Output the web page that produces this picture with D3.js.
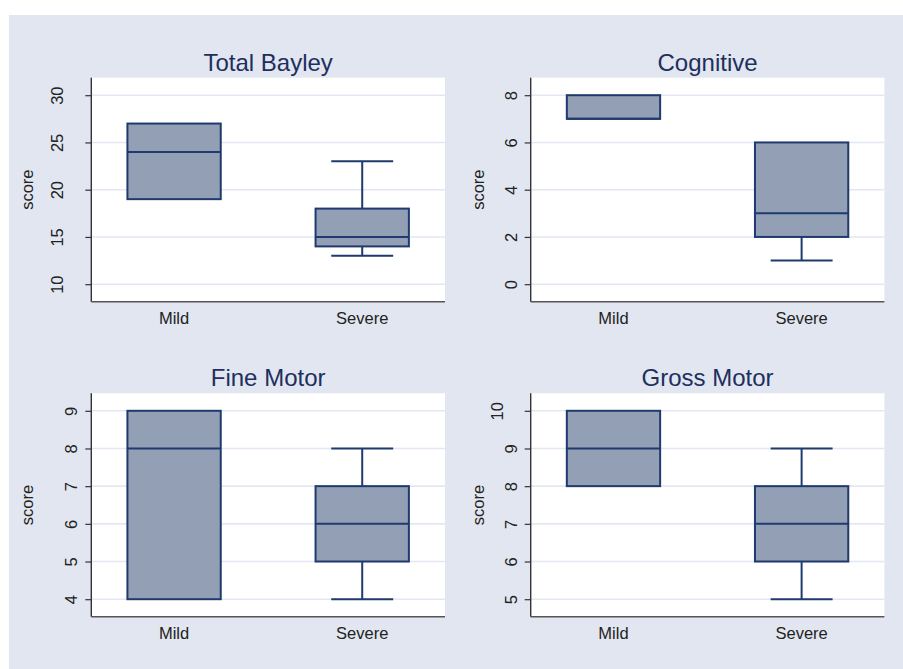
<!DOCTYPE html>
<html>
<head>
<meta charset="utf-8">
<script src="https://cdn.jsdelivr.net/npm/d3@7"></script>
<style>
  html, body { margin: 0; padding: 0; background: #ffffff; }
  svg { display: block; }
  text { font-family: "Liberation Sans", Arial, Helvetica, sans-serif; }
</style>
</head>
<body>
<script>
// ---- data ----
const categories = ["Mild", "Severe"];
const titles = ["Total Bayley", "Cognitive", "Fine Motor", "Gross Motor"];
// [lower whisker, Q1, median, Q3, upper whisker]
const mildStats = [
  [19, 19, 24, 27, 27],
  [7, 7, 7, 8, 8],
  [4, 4, 8, 9, 9],
  [8, 8, 9, 10, 10]
];
const severeStats = [
  [13, 14, 15, 18, 23],
  [1, 2, 3, 6, 6],
  [4, 5, 6, 7, 8],
  [5, 6, 7, 8, 9]
];
const yTicks = [
  [10, 15, 20, 25, 30],
  [0, 2, 4, 6, 8],
  [4, 5, 6, 7, 8, 9],
  [5, 6, 7, 8, 9, 10]
];
const yLabel = "score";

// ---- layout ----
const W = 903, H = 669;
const svg = d3.select("body").append("svg").attr("width", W).attr("height", H);

svg.append("rect").attr("x", 9).attr("y", 15).attr("width", W - 9).attr("height", H - 15)
  .attr("fill", "#e1e6f0");

const colX = [91.3, 530.7];
const rowY = [77.7, 393.3];
const yLabelOffset = [58, 46.4];
const plotW = 353.7;
const plotHs = [224, 223.4];
const pad = 17.5;

const boxFill = "#939fb5";
const boxStroke = "#1f3a6e";

titles.forEach((title, i) => {
  const col = i % 2, row = Math.floor(i / 2);
  const x0 = colX[col];
  const y0 = rowY[row];
  const ph = plotHs[row];
  const ticks = yTicks[i];
  const g = svg.append("g").attr("transform", `translate(${x0},${y0})`);

  const x = d3.scalePoint().domain(categories).range([0, plotW]).padding(0.44);
  const step = plotW / (1 + 2 * 0.44);
  const boxW = step * 0.496;
  const capW = boxW * 0.664;

  const y = d3.scaleLinear().domain([d3.min(ticks), d3.max(ticks)]).range([ph - pad, pad]);

  // plot area
  g.append("rect").attr("x", 0).attr("y", 0).attr("width", plotW).attr("height", ph).attr("fill", "#ffffff");

  // gridlines
  g.selectAll("line.grid").data(ticks).enter().append("line")
    .attr("x1", 0).attr("x2", plotW)
    .attr("y1", d => y(d)).attr("y2", d => y(d))
    .attr("stroke", "#e3e7f1").attr("stroke-width", 1.6);

  // boxes
  const stats = [mildStats[i], severeStats[i]];
  stats.forEach((s, k) => {
    const cx = x(categories[k]);
    const [lw, q1, med, q3, uw] = s;
    const bg = g.append("g");
    if (uw > q3) {
      bg.append("line").attr("x1", cx).attr("x2", cx).attr("y1", y(q3)).attr("y2", y(uw))
        .attr("stroke", boxStroke).attr("stroke-width", 2);
      bg.append("line").attr("x1", cx - capW / 2).attr("x2", cx + capW / 2).attr("y1", y(uw)).attr("y2", y(uw))
        .attr("stroke", boxStroke).attr("stroke-width", 2);
    }
    if (lw < q1) {
      bg.append("line").attr("x1", cx).attr("x2", cx).attr("y1", y(q1)).attr("y2", y(lw))
        .attr("stroke", boxStroke).attr("stroke-width", 2);
      bg.append("line").attr("x1", cx - capW / 2).attr("x2", cx + capW / 2).attr("y1", y(lw)).attr("y2", y(lw))
        .attr("stroke", boxStroke).attr("stroke-width", 2);
    }
    bg.append("rect").attr("x", cx - boxW / 2).attr("width", boxW)
      .attr("y", y(q3)).attr("height", y(q1) - y(q3))
      .attr("fill", boxFill).attr("stroke", boxStroke).attr("stroke-width", 2);
    bg.append("line").attr("x1", cx - boxW / 2).attr("x2", cx + boxW / 2).attr("y1", y(med)).attr("y2", y(med))
      .attr("stroke", boxStroke).attr("stroke-width", 2);
  });

  // y axis
  const yAxis = d3.axisLeft(y).tickValues(ticks).tickSize(6).tickPadding(4).tickFormat(d3.format("d"));
  const ya = g.append("g").call(yAxis);
  ya.select(".domain").attr("d", `M0,0V${ph}`).attr("stroke", "#333").attr("stroke-width", 1.4);
  ya.selectAll(".tick line").attr("stroke", "#333").attr("stroke-width", 1.2);
  ya.selectAll(".tick text")
    .attr("x", null).attr("dy", null)
    .attr("transform", d => `translate(${-14 * String(d).length},0) rotate(-90)`)
    .attr("text-anchor", "middle")
    .attr("font-size", 16.5).attr("fill", "#222");

  // x axis (category labels, no ticks)
  g.append("line").attr("x1", 0).attr("x2", plotW).attr("y1", ph).attr("y2", ph)
    .attr("stroke", "#555").attr("stroke-width", 1.6);
  g.selectAll("text.xl").data(categories).enter().append("text")
    .attr("x", d => x(d)).attr("y", ph + 22.5)
    .attr("text-anchor", "middle").attr("font-size", 16.5).attr("fill", "#222").text(d => d);

  // y label
  g.append("text").attr("transform", `translate(${-yLabelOffset[col]},${ph / 2}) rotate(-90)`)
    .attr("text-anchor", "middle").attr("font-size", 16.5).attr("fill", "#222").text(yLabel);

  // title
  g.append("text").attr("x", plotW / 2).attr("y", -7)
    .attr("text-anchor", "middle").attr("font-size", 24).attr("fill", "#1e2f5e").text(title);
});
</script>
</body>
</html>
